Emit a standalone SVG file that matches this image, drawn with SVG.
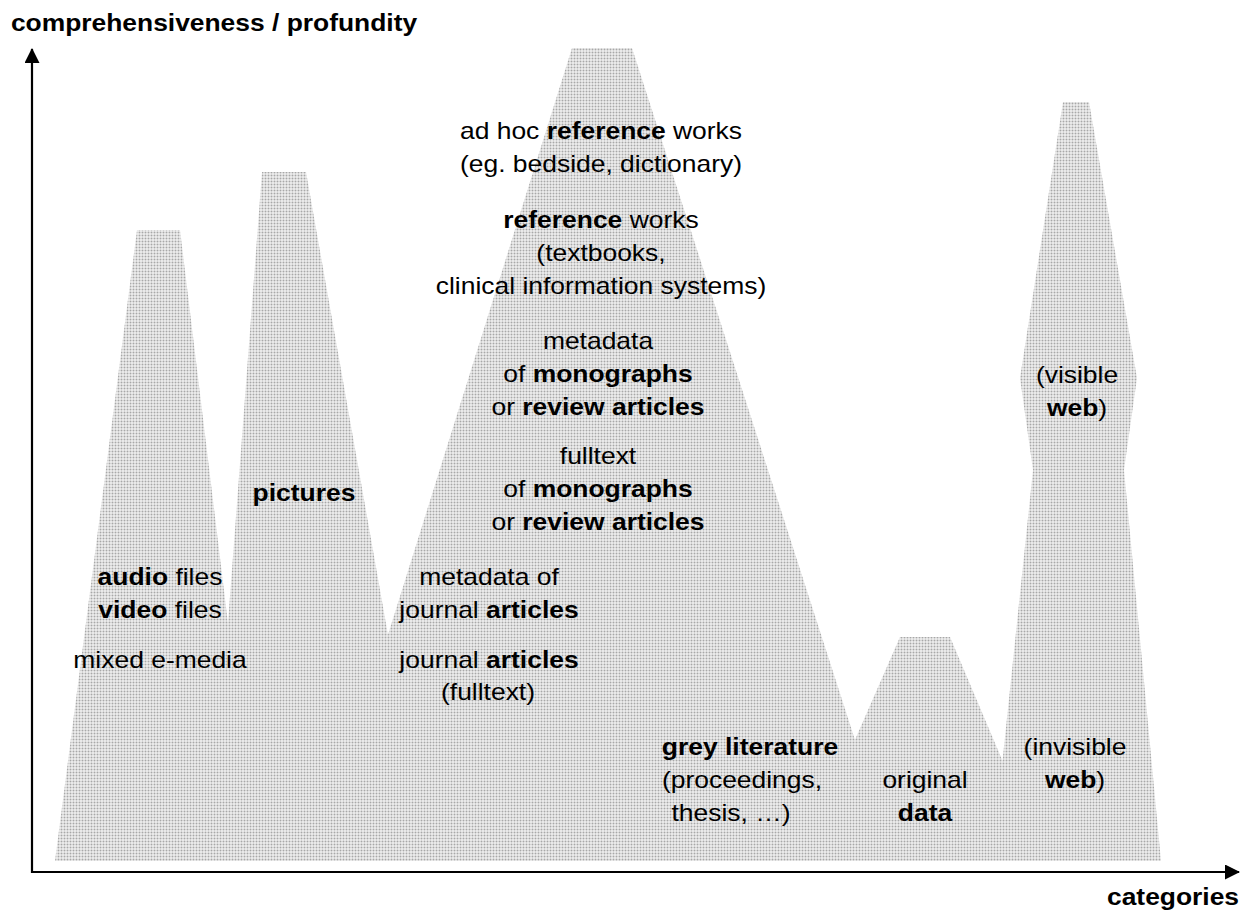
<svg xmlns="http://www.w3.org/2000/svg" width="1243" height="912" viewBox="0 0 1243 912">
<style>
text{font-family:"Liberation Sans",Arial,sans-serif;fill:#000;text-anchor:middle}
.t{font-size:23px}
.b{font-weight:bold}
.ax{font-size:24px;font-weight:bold}
.axis{stroke:#000;stroke-width:2.2;fill:none}
.peak{fill:url(#dots);stroke:none}
</style>
<defs>
<pattern id="dots" width="3" height="3" patternUnits="userSpaceOnUse">
<rect width="3" height="3" fill="#fff"/>
<rect x="0.5" y="0.5" width="2" height="2" fill="#a8a8a8"/>
</pattern>
<marker id="ah" markerWidth="15" markerHeight="15" refX="14" refY="7.5" orient="auto" markerUnits="userSpaceOnUse">
<path d="M0,0 L15,7.5 L0,15 Z" fill="#000"/>
</marker>
</defs>
<rect width="1243" height="912" fill="#fff"/>
<g id="peaks">
<polygon id="peak-audio" class="peak" points="55,861 137,230 180,230 257,861"/>
<polygon id="peak-pictures" class="peak" points="210,861 262,172 306,172 428,861"/>
<polygon id="peak-literature" class="peak" points="317,861 572,48 632,48 894,861"/>
<polygon id="peak-data" class="peak" points="802,861 900,637 950,637 1045,861"/>
<polygon id="peak-web" class="peak" points="992,861 1033,470 1020,378 1063,102 1089,102 1137,378 1124,470 1161,861"/>
</g>
<g id="connectors">
<line class="axis" x1="32" y1="873" x2="32" y2="49" marker-end="url(#ah)"/>
<line class="axis" x1="31" y1="872" x2="1239" y2="872" marker-end="url(#ah)"/>
</g>
<g id="axis-labels">
<text class="ax" transform="translate(214,31) scale(1.1,1)">comprehensiveness / profundity</text>
<text class="ax" transform="translate(1173,905) scale(1.1,1)">categories</text>
</g>
<g id="node-audio">
<text class="t" transform="translate(160,585) scale(1.15,1)"><tspan class="b">audio</tspan> files</text>
<text class="t" transform="translate(160,618) scale(1.15,1)"><tspan class="b">video</tspan> files</text>
<text class="t" transform="translate(160,668) scale(1.15,1)">mixed e-media</text>
</g>
<g id="node-pictures">
<text class="t b" transform="translate(304,501) scale(1.15,1)">pictures</text>
</g>
<g id="node-adhoc">
<text class="t" transform="translate(601,139) scale(1.15,1)">ad hoc <tspan class="b">reference</tspan> works</text>
<text class="t" transform="translate(601,172) scale(1.15,1)">(eg. bedside, dictionary)</text>
</g>
<g id="node-reference">
<text class="t" transform="translate(601,228) scale(1.15,1)"><tspan class="b">reference</tspan> works</text>
<text class="t" transform="translate(601,261) scale(1.15,1)">(textbooks,</text>
<text class="t" transform="translate(601,294) scale(1.15,1)">clinical information systems)</text>
</g>
<g id="node-metadata-mono">
<text class="t" transform="translate(598,349) scale(1.15,1)">metadata</text>
<text class="t" transform="translate(598,382) scale(1.15,1)">of <tspan class="b">monographs</tspan></text>
<text class="t" transform="translate(598,415) scale(1.15,1)">or <tspan class="b">review articles</tspan></text>
</g>
<g id="node-fulltext-mono">
<text class="t" transform="translate(598,464) scale(1.15,1)">fulltext</text>
<text class="t" transform="translate(598,497) scale(1.15,1)">of <tspan class="b">monographs</tspan></text>
<text class="t" transform="translate(598,530) scale(1.15,1)">or <tspan class="b">review articles</tspan></text>
</g>
<g id="node-metadata-journal">
<text class="t" transform="translate(489,585) scale(1.15,1)">metadata of</text>
<text class="t" transform="translate(489,618) scale(1.15,1)">journal <tspan class="b">articles</tspan></text>
</g>
<g id="node-journal">
<text class="t" transform="translate(489,668) scale(1.15,1)">journal <tspan class="b">articles</tspan></text>
<text class="t" transform="translate(488,700) scale(1.15,1)">(fulltext)</text>
</g>
<g id="node-grey">
<text class="t b" transform="translate(750,755) scale(1.15,1)">grey literature</text>
<text class="t" transform="translate(742,788) scale(1.15,1)">(proceedings,</text>
<text class="t" transform="translate(731,821) scale(1.15,1)">thesis, …)</text>
</g>
<g id="node-data">
<text class="t" transform="translate(925,788) scale(1.15,1)">original</text>
<text class="t b" transform="translate(925,821) scale(1.15,1)">data</text>
</g>
<g id="node-visible-web">
<text class="t" transform="translate(1077,383) scale(1.15,1)">(visible</text>
<text class="t" transform="translate(1077,416) scale(1.15,1)"><tspan class="b">web</tspan>)</text>
</g>
<g id="node-invisible-web">
<text class="t" transform="translate(1075,755) scale(1.15,1)">(invisible</text>
<text class="t" transform="translate(1075,788) scale(1.15,1)"><tspan class="b">web</tspan>)</text>
</g>
</svg>
